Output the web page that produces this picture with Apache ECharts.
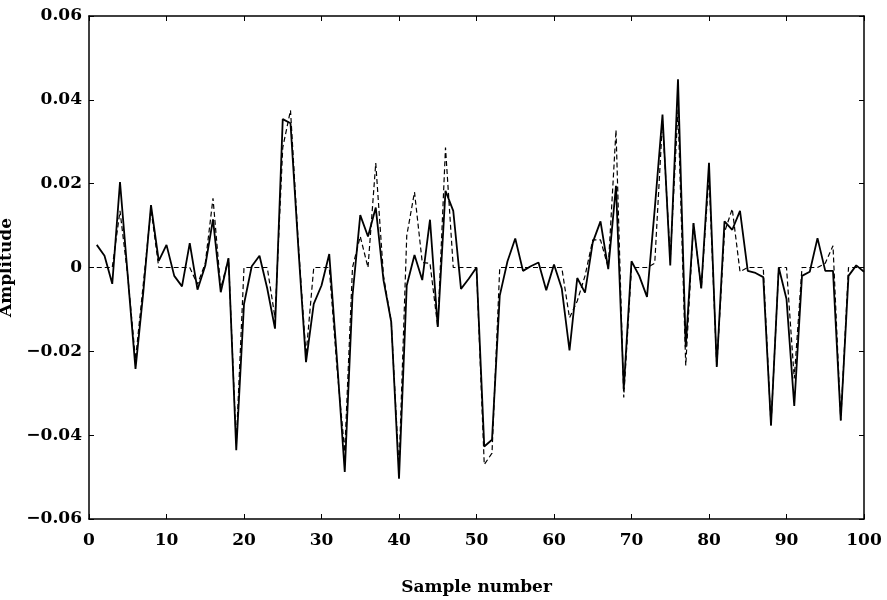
<!DOCTYPE html>
<html><head><meta charset="utf-8">
<script src="https://cdn.jsdelivr.net/npm/echarts@6/dist/echarts.min.js"></script>
<style>html,body{margin:0;padding:0;background:#fff}#c{width:887px;height:600px}</style>
</head><body><div id="c"></div>
<script>
const samples = Array.from({length:100},(_,i)=>i+1);
const solidValues = [
 0.0054, 0.0028, -0.0039, 0.0204, -0.002, -0.0242, -0.006, 0.0149, 0.0016, 0.0054,
 -0.002, -0.0045, 0.0058, -0.0053, 0.0004, 0.0115, -0.0059, 0.0022, -0.0436, -0.0087,
 0.0003, 0.0028, -0.005, -0.0146, 0.0354, 0.0344, 0.005, -0.0226, -0.0087, -0.0043,
 0.0032, -0.022, -0.0488, -0.0067, 0.0125, 0.0074, 0.0143, -0.003, -0.013, -0.0504,
 -0.0043, 0.003, -0.003, 0.0114, -0.0142, 0.0183, 0.0135, -0.0051, -0.0027, 0.0,
 -0.0427, -0.0411, -0.0067, 0.0015, 0.0069, -0.0008, 0.0003, 0.0012, -0.0054, 0.0007,
 -0.005, -0.0198, -0.0025, -0.006, 0.006, 0.011, -0.0004, 0.0195, -0.029, 0.0015,
 -0.002, -0.007, 0.014, 0.0365, 0.0005, 0.0449, -0.019, 0.0106, -0.005, 0.025,
 -0.0237, 0.011, 0.009, 0.0135, -0.0008, -0.0013, -0.0023, -0.0377, 0.0, -0.0075,
 -0.033, -0.002, -0.001, 0.007, -0.0008, -0.0008, -0.0365, -0.002, 0.0005, -0.001
];
const dashedValues = [
 0, 0, 0, 0.0135, -0.002, -0.022, -0.004, 0.014, 0, 0,
 0, 0, 0, -0.004, 0.001, 0.0165, -0.005, 0.0022, -0.042, 0,
 0, 0, 0, -0.012, 0.0286, 0.0375, 0.006, -0.021, 0, 0,
 0, -0.024, -0.044, 0, 0.0074, 0, 0.0249, -0.002, -0.013, -0.048,
 0.0076, 0.018, 0.0012, 0.001, -0.0142, 0.0286, 0, 0, 0, 0,
 -0.047, -0.0443, 0, 0, 0, 0, 0, 0, 0, 0,
 0, -0.012, -0.008, -0.002, 0.0066, 0.0066, 0, 0.0328, -0.031, 0,
 0, 0, 0.001, 0.035, 0.002, 0.0377, -0.0234, 0.0106, -0.005, 0.022,
 -0.0237, 0.0084, 0.014, -0.001, 0, 0, 0, -0.0377, 0, 0,
 -0.0265, 0, 0, 0, 0.001, 0.0052, -0.0365, 0, 0, 0
];
const xTicks = [0,10,20,30,40,50,60,70,80,90,100];
const yTicks = [-0.06,-0.04,-0.02,0,0.02,0.04,0.06];

const font = 'DejaVu Serif';
const fmtY = v => {
  const r = Math.round(v*100)/100;
  if (Math.abs(r) < 1e-9) return '0';
  return (r < 0 ? '\u22120.' : '0.') + String(Math.round(Math.abs(r)*100)).padStart(2,'0');
};
const chart = echarts.init(document.getElementById('c'), null, {renderer:'canvas'});
const axisLine = {show:true, onZero:false, lineStyle:{color:'#000', width:1.5}};
const tick = {show:true, inside:true, length:5, lineStyle:{color:'#000', width:1}};
chart.setOption({
  backgroundColor:'#fff',
  animation:false,
  grid:{left:89, right:23, top:16, bottom:81, containLabel:false, outerBoundsMode:'none'},
  xAxis:[
    {type:'value', min:xTicks[0], max:xTicks[xTicks.length-1], interval:10, position:'bottom',
     name:'Sample number', nameLocation:'middle', nameGap:60,
     nameTextStyle:{fontFamily:font, fontWeight:'bold', fontSize:17, color:'#000'},
     axisLine, axisTick:tick, splitLine:{show:false},
     axisLabel:{fontFamily:font, fontWeight:'bold', fontSize:17, color:'#000', margin:13}},
    {type:'value', min:0, max:100, interval:10, position:'top',
     axisLine, axisTick:tick, splitLine:{show:false}, axisLabel:{show:false}}
  ],
  yAxis:[
    {type:'value', min:yTicks[0], max:yTicks[yTicks.length-1], interval:0.02, position:'left',
     name:'Amplitude', nameLocation:'middle', nameGap:74, nameRotate:90, nameMoveOverlap:false,
     nameTextStyle:{fontFamily:font, fontWeight:'bold', fontSize:17, color:'#000'},
     axisLine, axisTick:tick, splitLine:{show:false},
     axisLabel:{fontFamily:font, fontWeight:'bold', fontSize:17, color:'#000', margin:7, formatter:fmtY}},
    {type:'value', min:-0.06, max:0.06, interval:0.02, position:'right',
     axisLine, axisTick:tick, splitLine:{show:false}, axisLabel:{show:false}}
  ],
  series:[
    {type:'line', name:'dashed', data:samples.map((x,i)=>[x,dashedValues[i]]), showSymbol:false,
     lineStyle:{color:'#000', width:1.2, type:[5,3]}, z:2},
    {type:'line', name:'solid', data:samples.map((x,i)=>[x,solidValues[i]]), showSymbol:false,
     lineStyle:{color:'#000', width:1.8}, z:3}
  ]
});
</script></body></html>
